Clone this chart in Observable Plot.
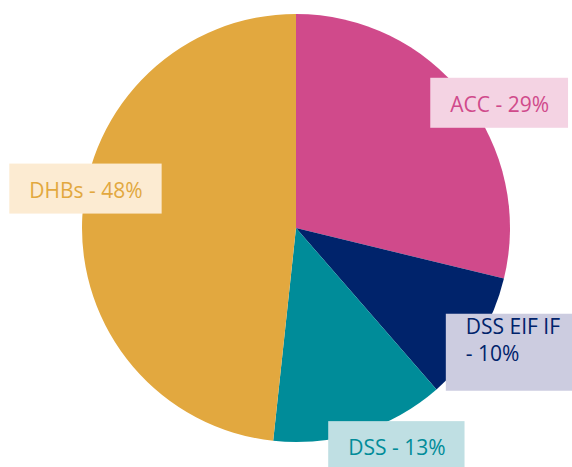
<!DOCTYPE html>
<html>
<head>
<meta charset="utf-8">
<script src="https://cdn.jsdelivr.net/npm/d3@7"></script>
<script src="https://cdn.jsdelivr.net/npm/@observablehq/plot@0.6"></script>
<style>
  html, body { margin: 0; padding: 0; background: #fff; }
  svg { display: block; }
</style>
</head>
<body>
<div id="chart"></div>
<script>
// ---- data ----
const categories = ["ACC", "DSS EIF IF", "DSS", "DHBs"];
const shares = [28.8, 9.8, 13.1, 48.3];
const labelLines = [["ACC - 29%"], ["DSS EIF IF", "- 10%"], ["DSS - 13%"], ["DHBs - 48%"]];

// ---- style ----
const sliceColors = ["#D04A8B", "#00236B", "#008C99", "#E2A83F"];
const boxColors = ["#F4D3E3", "#CCCCE0", "#BFDFE3", "#FCEBD2"];
const labelOffsets = [[-34, 7], [-33, 13], [-32, 14], [-73, -28]]; // box left / center-y relative to rim anchor
const W = 572, H = 467;
const cx = 296, cy = 228, R = 214;
const fontSize = 21, lineH = 27, padX = 19.5, padY = 11.5;
const font = `${fontSize}px 'Open Sans', sans-serif`;

const rows = categories.map((c, i) => ({category: c, value: shares[i], lines: labelLines[i], color: sliceColors[i], box: boxColors[i]}));
const arcs = d3.pie().sort(null).value(d => d.value).startAngle(0).endAngle(2 * Math.PI)(rows);
const arcGen = d3.arc().innerRadius(0).outerRadius(R);

const ctx = document.createElement("canvas").getContext("2d");
ctx.font = font;

const labels = arcs.map((a, i) => {
  const mid = (a.startAngle + a.endAngle) / 2;
  const ax = cx + R * Math.sin(mid), ay = cy - R * Math.cos(mid);
  const [dx, dy] = labelOffsets[i];
  const lines = a.data.lines;
  const tw = d3.max(lines, l => ctx.measureText(l).width);
  const left = ax + dx, mcy = ay + dy;
  const h = lines.length * lineH + 2 * padY;
  return {
    ...a.data,
    x1: left, x2: left + tw + 2 * padX,
    y1: mcy - h / 2, y2: mcy + h / 2,
    tx: left + padX,
    ty: mcy - h / 2 + padY + lineH / 2,
    text: lines.join("\n")
  };
});

const pieMark = (index, scales, values, dimensions) => {
  const g = d3.create("svg:g").attr("transform", `translate(${scales.x(cx)},${scales.y(cy)})`);
  g.selectAll("path").data(arcs).join("path")
    .attr("d", arcGen)
    .attr("fill", d => d.data.color);
  return g.node();
};

const chart = Plot.plot({
  width: W,
  height: H,
  margin: 0,
  x: {type: "identity", axis: null},
  y: {type: "identity", axis: null},
  style: {background: "#fff", fontFamily: "'Open Sans', sans-serif"},
  marks: [
    pieMark,
    Plot.rect(labels, {x1: "x1", x2: "x2", y1: "y1", y2: "y2", fill: "box"}),
    Plot.text(labels, {
      x: "tx", y: "ty", text: "text", fill: "color",
      textAnchor: "start", lineAnchor: "middle", lineHeight: lineH / fontSize,
      fontSize: fontSize, fontFamily: "'Open Sans', sans-serif"
    })
  ]
});
document.getElementById("chart").appendChild(chart);
</script>
</body>
</html>
